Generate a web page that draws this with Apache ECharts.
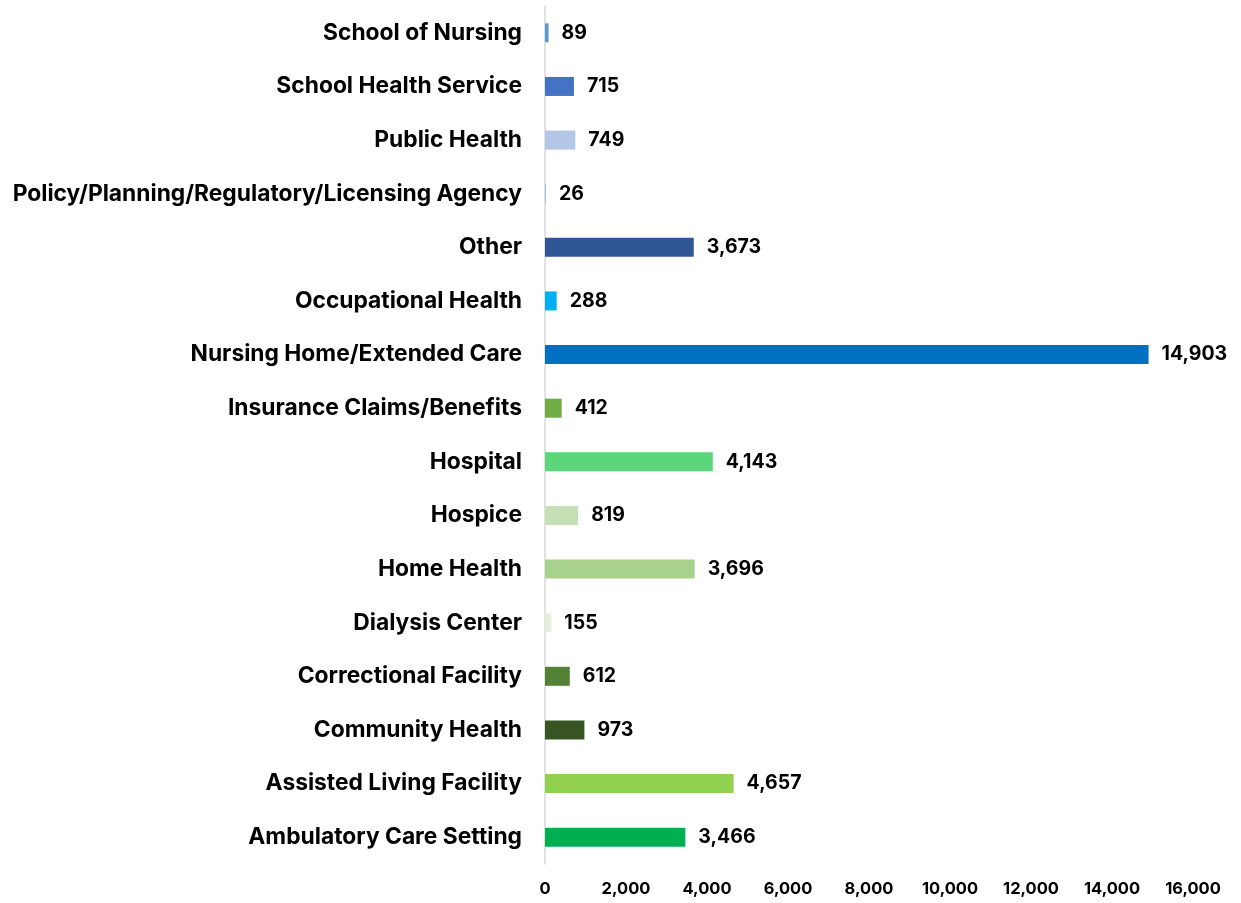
<!DOCTYPE html>
<html>
<head>
<meta charset="utf-8">
<script src="https://cdn.jsdelivr.net/npm/echarts@6/dist/echarts.min.js"></script>
<style>
  html, body { margin: 0; padding: 0; background: #fff; }
  #chart { width: 1241px; height: 903px; }
</style>
</head>
<body>
<div id="chart"></div>
<script>
// categories listed bottom to top
const categories = [
  'Ambulatory Care Setting',
  'Assisted Living Facility',
  'Community Health',
  'Correctional Facility',
  'Dialysis Center',
  'Home Health',
  'Hospice',
  'Hospital',
  'Insurance Claims/Benefits',
  'Nursing Home/Extended Care',
  'Occupational Health',
  'Other',
  'Policy/Planning/Regulatory/Licensing Agency',
  'Public Health',
  'School Health Service',
  'School of Nursing'
];
const counts = [3466, 4657, 973, 612, 155, 3696, 819, 4143, 412, 14903, 288, 3673, 26, 749, 715, 89];
const barColors = [
  '#00B050', '#92D050', '#375623', '#548235', '#E2F0D9', '#A9D18E', '#C5E0B4', '#5CD67A',
  '#70AD47', '#0070C0', '#00B0F0', '#2F5597', '#9DC3E6', '#B4C7E7', '#4472C4', '#5B9BD5'
];
const xTicks = { min: 0, max: 16000, interval: 2000 };

const chart = echarts.init(document.getElementById('chart'));
const fontFamily = 'Inter, "Open Sans", sans-serif';

chart.setOption({
  animation: false,
  grid: { left: 545, right: 48, top: 6, bottom: 39 },
  xAxis: {
    type: 'value',
    min: xTicks.min,
    max: xTicks.max,
    interval: xTicks.interval,
    splitLine: { show: false },
    axisLine: { show: false },
    axisTick: { show: false },
    axisLabel: {
      color: '#000',
      fontWeight: 'bold',
      fontSize: 16.5,
      fontFamily: fontFamily,
      margin: 17,
      formatter: v => v.toLocaleString('en-US')
    }
  },
  yAxis: {
    type: 'category',
    data: categories,
    axisLine: { show: true, lineStyle: { color: '#D9D9D9', width: 1.5 } },
    axisTick: { show: false },
    axisLabel: {
      color: '#000',
      fontWeight: 'bold',
      fontSize: 22.8,
      fontFamily: fontFamily,
      margin: 23
    }
  },
  series: [{
    type: 'bar',
    barWidth: 19,
    data: counts.map((v, i) => ({ value: v, itemStyle: { color: barColors[i] } })),
    label: {
      show: true,
      position: 'right',
      distance: 13,
      color: '#000',
      fontWeight: 'bold',
      fontSize: 19.5,
      fontFamily: fontFamily,
      formatter: p => p.value.toLocaleString('en-US')
    }
  }]
});
</script>
</body>
</html>
